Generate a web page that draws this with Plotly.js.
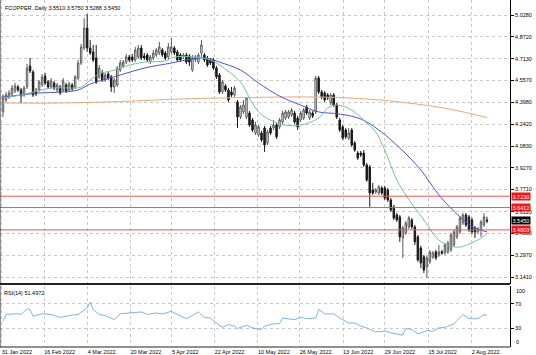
<!DOCTYPE html>
<html><head><meta charset="utf-8">
<script src="https://cdn.plot.ly/plotly-3.0.1.min.js"></script>
<style>html,body{margin:0;padding:0;background:#fff;}#chart{width:536px;height:355px;}</style>
</head><body><div id="chart"></div>
<script>
const symbolTitle = "FCOPPER.,Daily 3.5510 3.5750 3.5288 3.5450";
const rsiTitle = "RSI(14) 51.4972";

const open = [4.330,4.416,4.438,4.459,4.481,4.510,4.488,4.452,4.510,4.661,
4.618,4.474,4.488,4.524,4.589,4.546,4.510,4.538,4.488,4.510,
4.488,4.524,4.488,4.524,4.510,4.574,4.682,4.790,4.934,4.790,
4.762,4.718,4.582,4.610,4.560,4.603,4.582,4.510,4.524,4.632,
4.661,4.690,4.726,4.726,4.704,4.726,4.790,4.733,4.740,4.690,
4.718,4.740,4.754,4.776,4.754,4.726,4.762,4.790,4.762,4.740,
4.726,4.740,4.733,4.632,4.704,4.690,4.754,4.740,4.718,4.704,
4.704,4.646,4.596,4.474,4.517,4.488,4.474,4.452,4.402,4.294,
4.330,4.294,4.322,4.272,4.178,4.164,4.178,4.214,4.106,4.214,
4.214,4.236,4.222,4.258,4.286,4.294,4.308,4.322,4.286,4.272,
4.286,4.366,4.286,4.322,4.330,4.574,4.474,4.466,4.452,4.394,
4.452,4.380,4.272,4.222,4.200,4.142,4.200,4.106,4.034,4.034,
4.034,3.948,3.934,3.768,3.754,3.746,3.782,3.782,3.768,3.696,
3.646,3.588,3.574,3.422,3.458,3.502,3.552,3.502,3.430,3.350,
3.286,3.214,3.250,3.286,3.322,3.300,3.322,3.314,3.322,3.336,
3.372,3.430,3.466,3.530,3.588,3.574,3.552,3.494,3.466,3.480,
3.516,3.551];
const high = [4.459,4.474,4.488,4.524,4.538,4.524,4.502,4.517,4.675,4.718,
4.632,4.502,4.560,4.603,4.610,4.560,4.574,4.553,4.538,4.524,
4.574,4.538,4.546,4.538,4.596,4.704,4.819,5.006,5.035,4.848,
4.812,4.812,4.668,4.632,4.610,4.618,4.596,4.574,4.661,4.704,
4.704,4.747,4.740,4.747,4.798,4.812,4.812,4.754,4.754,4.740,
4.776,4.790,4.834,4.790,4.769,4.826,4.862,4.805,4.776,4.754,
4.754,4.754,4.747,4.740,4.740,4.754,4.848,4.754,4.733,4.718,
4.718,4.661,4.610,4.560,4.531,4.502,4.510,4.517,4.416,4.380,
4.416,4.438,4.337,4.286,4.258,4.236,4.193,4.229,4.200,4.229,
4.272,4.250,4.286,4.337,4.344,4.344,4.358,4.337,4.301,4.337,
4.358,4.380,4.344,4.337,4.589,4.589,4.488,4.481,4.466,4.466,
4.466,4.394,4.286,4.236,4.214,4.214,4.214,4.121,4.049,4.049,
4.056,3.962,3.948,3.818,3.782,3.804,3.797,3.797,3.782,3.710,
3.660,3.602,3.588,3.509,3.545,3.581,3.566,3.516,3.444,3.365,
3.300,3.293,3.336,3.329,3.336,3.372,3.336,3.386,3.401,3.458,
3.480,3.516,3.581,3.602,3.602,3.588,3.566,3.509,3.502,3.552,
3.602,3.575];
const low = [4.294,4.402,4.423,4.445,4.466,4.474,4.394,4.438,4.495,4.610,
4.438,4.445,4.474,4.510,4.524,4.495,4.495,4.488,4.474,4.452,
4.474,4.466,4.474,4.481,4.495,4.560,4.668,4.776,4.762,4.740,
4.690,4.531,4.567,4.546,4.546,4.560,4.474,4.466,4.510,4.618,
4.646,4.675,4.690,4.690,4.690,4.711,4.704,4.704,4.690,4.675,
4.704,4.726,4.740,4.726,4.704,4.711,4.747,4.740,4.690,4.690,
4.711,4.675,4.661,4.618,4.690,4.675,4.726,4.690,4.654,4.668,
4.632,4.567,4.459,4.459,4.474,4.402,4.438,4.438,4.214,4.279,
4.315,4.279,4.222,4.186,4.164,4.150,4.114,4.042,4.092,4.164,
4.200,4.135,4.207,4.243,4.272,4.279,4.294,4.243,4.200,4.258,
4.272,4.308,4.272,4.286,4.315,4.459,4.423,4.402,4.416,4.380,
4.366,4.279,4.186,4.128,4.135,4.128,4.078,4.042,3.984,4.006,
3.934,3.826,3.646,3.732,3.739,3.732,3.732,3.696,3.682,3.610,
3.552,3.538,3.394,3.278,3.444,3.487,3.487,3.372,3.250,3.206,
3.170,3.134,3.235,3.271,3.264,3.286,3.300,3.300,3.307,3.322,
3.358,3.415,3.451,3.516,3.502,3.466,3.451,3.422,3.451,3.430,
3.502,3.5288];
const close = [4.438,4.452,4.466,4.502,4.517,4.488,4.445,4.502,4.646,4.625,
4.452,4.459,4.546,4.582,4.538,4.510,4.553,4.502,4.524,4.466,
4.553,4.481,4.531,4.495,4.582,4.682,4.798,4.934,4.790,4.754,
4.704,4.546,4.646,4.560,4.596,4.574,4.510,4.560,4.646,4.682,
4.690,4.726,4.704,4.704,4.776,4.790,4.718,4.718,4.704,4.726,
4.754,4.776,4.798,4.740,4.718,4.798,4.798,4.754,4.704,4.704,
4.740,4.690,4.690,4.718,4.726,4.740,4.812,4.704,4.668,4.682,
4.646,4.582,4.474,4.546,4.488,4.416,4.452,4.502,4.294,4.366,
4.380,4.430,4.236,4.200,4.236,4.222,4.128,4.092,4.186,4.178,
4.236,4.150,4.272,4.322,4.330,4.330,4.344,4.258,4.222,4.322,
4.344,4.322,4.330,4.301,4.574,4.474,4.438,4.416,4.430,4.452,
4.380,4.294,4.200,4.142,4.150,4.178,4.092,4.056,3.998,4.020,
3.948,3.840,3.746,3.746,3.768,3.790,3.746,3.710,3.696,3.624,
3.566,3.552,3.430,3.494,3.530,3.566,3.502,3.394,3.264,3.242,
3.192,3.278,3.322,3.314,3.278,3.322,3.314,3.372,3.386,3.444,
3.466,3.502,3.566,3.588,3.516,3.480,3.466,3.466,3.487,3.538,
3.574,3.545];

// moving averages (bar index, price)
const maFastIdx = [0,6,16,26,29,32,37,41,47,54,57,64,69,72,79,82,85,89,94,99,105,108,111,116,120,124,127,131,134,140,145,149,152,155,159,161];
const maFastVal = [4.430,4.452,4.502,4.509,4.560,4.603,4.632,4.661,4.689,4.697,4.725,4.725,4.704,4.668,4.545,4.430,4.329,4.271,4.235,4.235,4.286,4.358,4.380,4.343,4.271,4.185,4.055,3.839,3.731,3.551,3.407,3.364,3.356,3.378,3.421,3.457];
const maMidIdx = [0,6,12,19,25,29,32,39,47,56,61,66,69,72,79,85,92,99,105,112,119,125,132,139,145,152,157,161];
const maMidVal = [4.437,4.452,4.466,4.473,4.488,4.531,4.552,4.596,4.646,4.682,4.704,4.718,4.711,4.689,4.632,4.538,4.444,4.379,4.330,4.315,4.279,4.200,4.070,3.912,3.732,3.574,3.494,3.466];
const maSlowIdx = [0,19,39,59,72,85,99,112,125,139,149,161];
const maSlowVal = [4.394,4.394,4.405,4.423,4.430,4.435,4.438,4.434,4.416,4.383,4.348,4.290];

const rsiIdx = [0,1,5,6,8,9,10,13,16,19,23,25,28,29,30,32,34,37,39,42,46,48,51,53,56,58,61,63,65,67,69,71,73,75,77,78,81,83,86,87,90,92,93,97,99,101,104,105,107,110,112,115,117,119,121,124,127,129,132,133,134,136,138,141,143,145,147,150,151,153,155,158,160,161];
const rsiVal = [42,53,54,53,62,61,50,54,53,48,52,53,63.5,72.7,61,53,51,44.6,54,55.4,57,53,55.4,53.8,58,53,46,51,57,48,47,39,32,36.5,34,30,35.4,31,28.4,34,37.6,38,47,44.6,48.4,46,47,61,54,53.8,47,39,39,34,31,24.6,25.7,23,20.3,19.2,30,28.4,21.4,26.8,25.7,31,32,37.6,43,52.7,46,46,52.7,51.5];

const priceTicks = [5.028,4.872,4.713,4.557,4.398,4.242,4.083,3.927,3.771,3.612,3.456,3.297,3.141];
const rsiTicks = [30,70];
const levelPrices = [3.7230,3.6412,3.4803];
const lastPrice = 3.5450;
const dateTickIdx = [-0.4,13.7,28.2,42.4,56.2,70.4,84.8,98.7,113.1,127,141.5,155.9];
const dateTickText = ['31 Jan 2022','16 Feb 2022','4 Mar 2022','20 Mar 2022','5 Apr 2022','22 Apr 2022','10 May 2022','26 May 2022','13 Jun 2022','29 Jun 2022','15 Jul 2022','2 Aug 2022'];

const bars = open.map((_, i) => i);
const FONT = 'Liberation Sans, Arial, sans-serif';
const GRID = '#c8c8c8';
const mainBottom = 1 - 284/347;
const rsiTop = (347 - 285.5)/347;

const traces = [
  {type:'candlestick', x:bars, open:open, high:high, low:low, close:close, xaxis:'x', yaxis:'y',
   increasing:{line:{color:'#5a5a5a',width:1}, fillcolor:'#ffffff'},
   decreasing:{line:{color:'#1a1a1a',width:1}, fillcolor:'#1a1a1a'},
   whiskerwidth:0, hoverinfo:'skip'},
  {type:'scatter', mode:'lines', x:maSlowIdx, y:maSlowVal, line:{color:'#eaa878',width:1,shape:'spline'}, xaxis:'x', yaxis:'y', hoverinfo:'skip'},
  {type:'scatter', mode:'lines', x:maMidIdx, y:maMidVal, line:{color:'#5050d8',width:1,shape:'spline'}, xaxis:'x', yaxis:'y', hoverinfo:'skip'},
  {type:'scatter', mode:'lines', x:maFastIdx, y:maFastVal, line:{color:'#70c49a',width:1,shape:'spline'}, xaxis:'x', yaxis:'y', hoverinfo:'skip'},
  {type:'scatter', mode:'lines', x:rsiIdx, y:rsiVal, line:{color:'#7ab4e6',width:1}, xaxis:'x', yaxis:'y2', hoverinfo:'skip'}
];

const shapes = [];
levelPrices.forEach(p => shapes.push({type:'line', xref:'paper', x0:0, x1:1, yref:'y', y0:p, y1:p, line:{color:'#f05050',width:1}, layer:'above'}));
shapes.push({type:'line', xref:'paper', yref:'paper', x0:0, x1:1, y0:mainBottom, y1:mainBottom, line:{color:'#222',width:2}});
shapes.push({type:'line', xref:'paper', yref:'paper', x0:0, x1:1, y0:0, y1:0, line:{color:'#222',width:1}});
shapes.push({type:'line', xref:'paper', yref:'paper', x0:0, x1:0, y0:mainBottom, y1:1, line:{color:'#222',width:1}});
shapes.push({type:'line', xref:'paper', yref:'paper', x0:0, x1:0, y0:0, y1:rsiTop, line:{color:'#222',width:1}});

const annotations = [
  {xref:'paper', yref:'paper', x:0, y:1, xanchor:'left', yanchor:'top', xshift:3, yshift:-3, text:symbolTitle, showarrow:false, font:{family:FONT,size:5.5,color:'#000'}},
  {xref:'paper', yref:'paper', x:0, y:rsiTop, xanchor:'left', yanchor:'top', xshift:2, yshift:-2, text:rsiTitle, showarrow:false, font:{family:FONT,size:5.5,color:'#000'}},
  {xref:'paper', yref:'y2', x:1, y:100, xanchor:'left', yanchor:'top', xshift:4, text:'100', showarrow:false, font:{family:FONT,size:5.5,color:'#000'}},
  {xref:'paper', yref:'y2', x:1, y:0, xanchor:'left', yanchor:'bottom', xshift:4, text:'0', showarrow:false, font:{family:FONT,size:5.5,color:'#000'}}
];
levelPrices.forEach(p => annotations.push({xref:'paper', yref:'y', x:1, y:p, xanchor:'left', yanchor:'middle', xshift:1, text:p.toFixed(4), showarrow:false, bgcolor:'#ff1010', borderpad:0.5, font:{family:FONT,size:5.5,color:'#ffffff'}}));
annotations.push({xref:'paper', yref:'y', x:1, y:lastPrice, xanchor:'left', yanchor:'middle', xshift:1, text:lastPrice.toFixed(4), showarrow:false, bgcolor:'#000000', borderpad:0.5, font:{family:FONT,size:5.5,color:'#ffffff'}});

const layout = {
  width:536, height:355,
  margin:{l:0, r:26, t:0, b:8, pad:0},
  paper_bgcolor:'#ffffff', plot_bgcolor:'#ffffff',
  showlegend:false,
  font:{family:FONT, size:5.5, color:'#000'},
  xaxis:{domain:[0,1], range:[-1, 168.65], anchor:'y2', tickvals:dateTickIdx, ticktext:dateTickText,
         ticklabelposition:'outside right', ticks:'', showgrid:true, gridcolor:GRID, griddash:'dot', gridwidth:1,
         zeroline:false, showline:false, tickfont:{family:FONT,size:5.5,color:'#000'}, rangeslider:{visible:false}, fixedrange:true},
  yaxis:{domain:[mainBottom,1], range:[3.0906, 5.136], side:'right', anchor:'x', tickvals:priceTicks,
         ticktext:priceTicks.map(v => v.toFixed(4)), ticks:'outside', ticklen:3, tickcolor:'#000',
         showline:true, linecolor:'#000', linewidth:1, showgrid:true, gridcolor:GRID, griddash:'dot', gridwidth:1,
         zeroline:false, tickfont:{family:FONT,size:5.5,color:'#000'}, fixedrange:true},
  yaxis2:{domain:[0,rsiTop], range:[0,100], side:'right', anchor:'x', tickvals:rsiTicks, ticktext:rsiTicks.map(String),
          ticks:'outside', ticklen:3, tickcolor:'#000', showline:true, linecolor:'#000', linewidth:1,
          showgrid:true, gridcolor:GRID, griddash:'dot', gridwidth:1, zeroline:false,
          tickfont:{family:FONT,size:5.5,color:'#000'}, fixedrange:true},
  shapes:shapes,
  annotations:annotations
};

Plotly.newPlot('chart', traces, layout, {displayModeBar:false, staticPlot:true});
</script>
</body></html>
